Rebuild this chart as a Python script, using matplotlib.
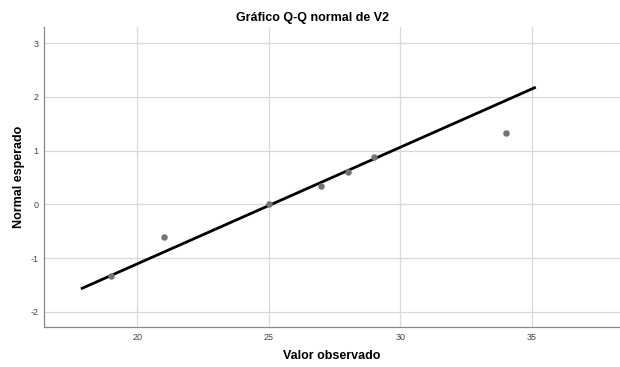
import matplotlib
matplotlib.use("Agg")
import matplotlib.pyplot as plt

plt.rcParams['font.family'] = ['Liberation Sans', 'DejaVu Sans']
plt.rcParams['axes.unicode_minus'] = False

observed = [19, 21, 25, 27, 28, 29, 34]
expected = [-1.34, -0.61, 0.0, 0.34, 0.60, 0.89, 1.33]
line_x = [17.9, 35.1]
line_y = [-1.56, 2.17]
xticks = [20, 25, 30, 35]
yticks = [-2, -1, 0, 1, 2, 3]

fig = plt.figure(figsize=(6.2, 3.67), dpi=100)
ax = fig.add_axes([44/620, 40/367, 576/620, 300/367])

ax.set_xlim(16.45, 38.35)
ax.set_ylim(-2.28, 3.3)
ax.set_xticks(xticks)
ax.set_yticks(yticks)
ax.grid(True, color='#d9d9d9', linewidth=0.9)
ax.set_axisbelow(True)

ax.plot(line_x, line_y, color='black', linewidth=2.0, zorder=2)
ax.scatter(observed, expected, s=22, color='#737373', zorder=3, linewidths=0)

for side in ['top', 'right']:
    ax.spines[side].set_visible(False)
for side in ['left', 'bottom']:
    ax.spines[side].set_color('#888888')
    ax.spines[side].set_linewidth(0.9)

ax.tick_params(axis='both', length=0, labelsize=6.5, labelcolor='#444444', pad=4)

ax.set_xlabel('Valor observado', fontsize=9, fontweight='bold')
ax.set_ylabel('Normal esperado', fontsize=9, fontweight='bold')
ax.xaxis.set_label_coords(0.5, -29/300)
ax.yaxis.set_label_coords(-25/576, 0.5)
ax.xaxis.label.set_va('center')
ax.yaxis.label.set_va('center')
fig.text(313/620, 349/367, 'Gráfico Q-Q normal de V2',
         ha='center', va='center', fontsize=9, fontweight='bold')

fig.savefig('out.png', dpi=100)
